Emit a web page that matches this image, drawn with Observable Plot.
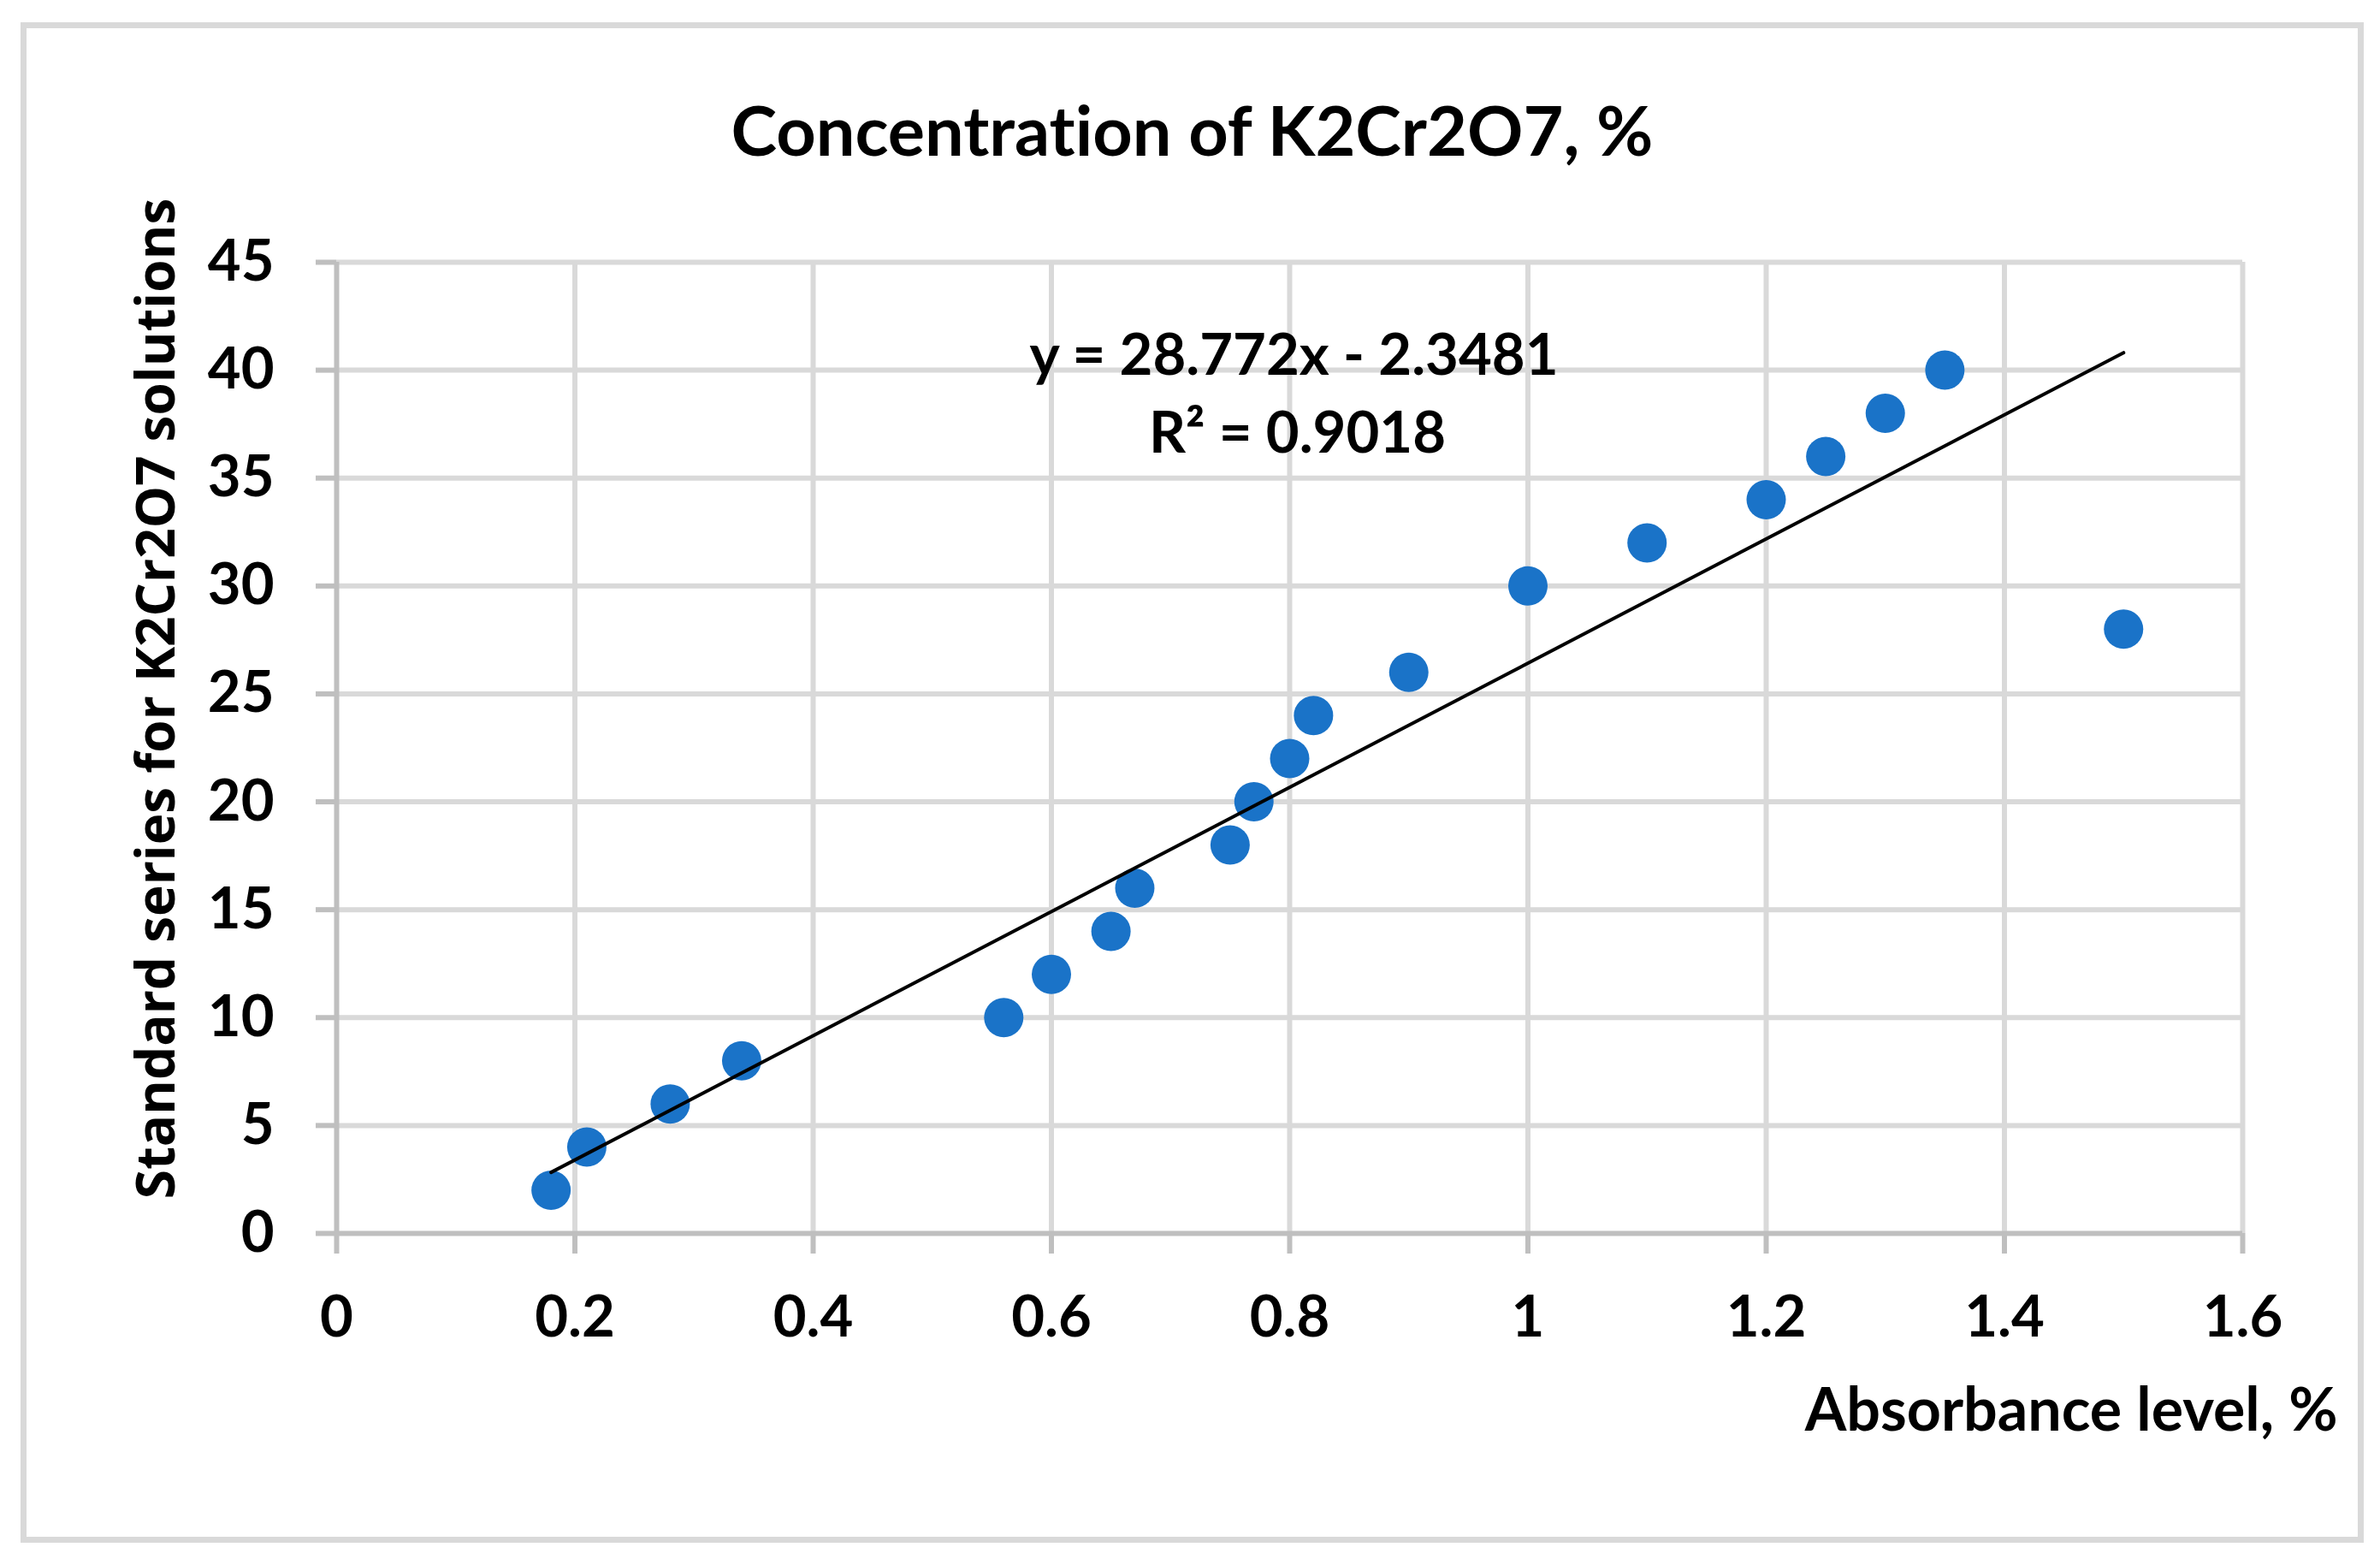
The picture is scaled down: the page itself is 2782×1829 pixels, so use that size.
<!DOCTYPE html>
<html>
<head>
<meta charset="utf-8">
<script src="https://cdn.jsdelivr.net/npm/d3@7"></script>
<script src="https://cdn.jsdelivr.net/npm/@observablehq/plot@0.6"></script>
<style>
html, body { margin: 0; padding: 0; background: #fff; }
#wrap { position: relative; width: 2782px; height: 1829px; }
#border { position: absolute; left: 24px; top: 26px; width: 2739px; height: 1777px; box-sizing: border-box; border: 7px solid #d9d9d9; pointer-events: none; }
#wrap svg { position: absolute; left: 0; top: 0; }
#wrap svg text { font-variant-ligatures: none; }
</style>
</head>
<body>
<div id="wrap"><div id="border"></div></div>
<script>
// Data
const absorbance    = [0.18, 0.21, 0.28, 0.34, 0.56, 0.60, 0.65, 0.67, 0.75, 0.77, 0.80, 0.82, 0.90, 1.00, 1.10, 1.20, 1.25, 1.30, 1.35, 1.50];
const concentration = [2, 4, 6, 8, 10, 12, 14, 16, 18, 20, 22, 24, 26, 30, 32, 34, 36, 38, 40, 28];

const xTicks = [0, 0.2, 0.4, 0.6, 0.8, 1, 1.2, 1.4, 1.6];
const yTicks = [0, 5, 10, 15, 20, 25, 30, 35, 40, 45];

const titleText = "Concentration of K2Cr2O7, %";
const xLabel = "Absorbance level, %";
const yLabel = "Standard series for K2Cr2O7 solutions";
const eqLine1 = "y = 28.772x - 2.3481";
const eqLine2 = "R² = 0.9018";

const points = absorbance.map((x, i) => ({x, y: concentration[i]}));

const calibri = "Lato, 'Open Sans', sans-serif";

const chart = Plot.plot({
  width: 2782,
  height: 1829,
  marginLeft: 393,
  marginRight: 161,
  marginTop: 306,
  marginBottom: 388,
  style: {fontFamily: calibri, fontWeight: "bold", fontSize: "67px", color: "black", background: "transparent", overflow: "visible"},
  x: {domain: [0, 1.6]},
  y: {domain: [0, 45]},
  marks: [
    Plot.gridX({ticks: xTicks.filter(d => d > 0), stroke: "#d9d9d9", strokeOpacity: 1, strokeWidth: 6}),
    Plot.gridY({ticks: yTicks.filter(d => d > 0), stroke: "#d9d9d9", strokeOpacity: 1, strokeWidth: 6}),
    Plot.ruleX([0], {stroke: "#bfbfbf", strokeWidth: 6}),
    Plot.ruleY([0], {stroke: "#bfbfbf", strokeWidth: 6}),
    Plot.axisX({ticks: xTicks, tickSize: 24, tickPadding: 49, tickFormat: d => String(d), stroke: "#bfbfbf", strokeWidth: 6, fill: "black", label: null}),
    Plot.axisY({ticks: yTicks, tickSize: 24, tickPadding: 49, tickFormat: d => String(d), stroke: "#bfbfbf", strokeWidth: 6, fill: "black", label: null}),
    Plot.dot(points, {x: "x", y: "y", r: 23, fill: "#1a73c8", stroke: "none"}),
    Plot.linearRegressionY(points, {x: "x", y: "y", stroke: "black", strokeWidth: 4, ci: 0}),
    Plot.text([titleText], {text: d => d, frameAnchor: "top", dx: -114, dy: -125, lineAnchor: "bottom", fontSize: 81, fontWeight: "bold", fontFamily: calibri, fill: "black"}),
    Plot.text([eqLine1], {text: d => d, frameAnchor: "top", dx: 5, dy: 131, lineAnchor: "bottom", fontSize: 67, fontWeight: "bold", fontFamily: calibri, fill: "black"}),
    Plot.text([eqLine2], {text: d => d, frameAnchor: "top", dx: 9, dy: 222, lineAnchor: "bottom", fontSize: 67, fontWeight: "bold", fontFamily: calibri, fill: "black"}),
    Plot.text([xLabel], {text: d => d, frameAnchor: "bottom-right", textAnchor: "end", dx: 111, dy: 230, lineAnchor: "bottom", fontSize: 70, fontWeight: "bold", fontFamily: calibri, fill: "black"}),
    Plot.text([yLabel], {text: d => d, frameAnchor: "left", rotate: -90, textAnchor: "middle", dx: -190, dy: -57.5, lineAnchor: "bottom", fontSize: 62, fontWeight: "bold", fontFamily: "'Open Sans', sans-serif", fill: "black"})
  ]
});
document.getElementById("wrap").appendChild(chart);
</script>
</body>
</html>
